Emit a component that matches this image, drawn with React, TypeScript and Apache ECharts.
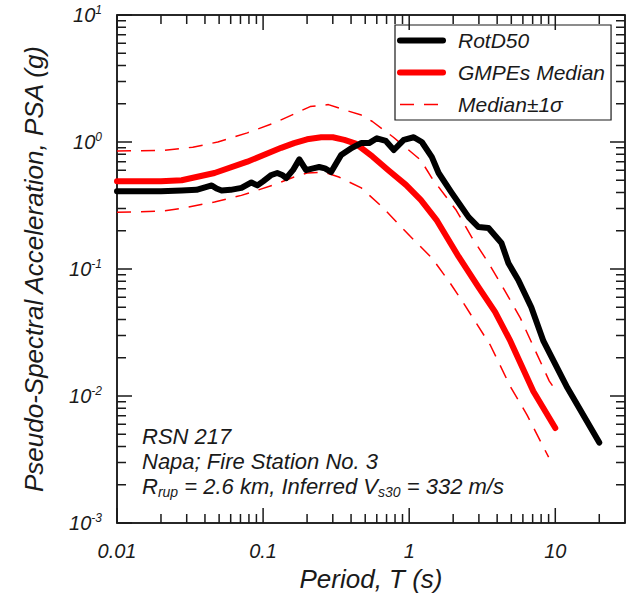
import React, { useEffect, useRef } from "react";
import * as echarts from "echarts";

// ---- data (period T in s, PSA in g) ----
const rotD50T = [0.01, 0.015, 0.02, 0.0277, 0.035, 0.04, 0.0445, 0.048, 0.052, 0.06, 0.0711, 0.0832, 0.0914, 0.1, 0.114, 0.125, 0.135, 0.144, 0.16, 0.177, 0.197, 0.22, 0.242, 0.265, 0.292, 0.342, 0.406, 0.468, 0.531, 0.601, 0.692, 0.785, 0.918, 1.074, 1.22, 1.43, 1.59, 1.95, 2.55, 2.98, 3.49, 4.28, 4.78, 5.58, 6.85, 8.3, 12.1, 20];
const rotD50PSA = [0.41, 0.41, 0.41, 0.415, 0.42, 0.44, 0.455, 0.43, 0.415, 0.42, 0.435, 0.48, 0.455, 0.49, 0.55, 0.57, 0.55, 0.52, 0.6, 0.73, 0.6, 0.62, 0.635, 0.62, 0.58, 0.79, 0.9, 0.98, 0.98, 1.07, 1.02, 0.865, 1.04, 1.09, 1.0, 0.76, 0.57, 0.4, 0.256, 0.214, 0.21, 0.16, 0.111, 0.082, 0.05, 0.027, 0.0116, 0.0043];

const medianT = [0.01, 0.02, 0.0277, 0.0465, 0.078, 0.133, 0.163, 0.2, 0.25, 0.3, 0.36, 0.43, 0.56, 0.72, 0.95, 1.2, 1.55, 2.18, 2.98, 3.87, 4.93, 7.07, 10];
const medianPSA = [0.49, 0.49, 0.5, 0.57, 0.7, 0.9, 0.98, 1.05, 1.09, 1.09, 1.04, 0.97, 0.77, 0.6, 0.46, 0.35, 0.24, 0.125, 0.072, 0.046, 0.027, 0.0109, 0.0056];

const upperT = [0.01, 0.021, 0.033, 0.049, 0.078, 0.119, 0.21, 0.28, 0.36, 0.47, 0.56, 0.78, 1.2, 1.43, 2.1, 2.67, 3.5, 4.5, 5.77, 9.1, 10];
const upperPSA = [0.85, 0.86, 0.91, 1.0, 1.18, 1.41, 1.9, 1.97, 1.79, 1.63, 1.45, 1.09, 0.72, 0.52, 0.29, 0.179, 0.111, 0.068, 0.041, 0.0131, 0.0112];

const lowerT = [0.01, 0.02, 0.0277, 0.0465, 0.071, 0.119, 0.163, 0.2, 0.26, 0.33, 0.47, 0.65, 1.02, 1.43, 1.9, 2.35, 3.6, 4.9, 6.4, 9.0];
const lowerPSA = [0.28, 0.285, 0.3, 0.337, 0.38, 0.46, 0.53, 0.57, 0.58, 0.53, 0.435, 0.31, 0.18, 0.122, 0.078, 0.054, 0.025, 0.012, 0.0071, 0.0033];

// ---- axis structure ----
const xTickLabels = ["0.01", "0.1", "1", "10"];
const yTickExponents = ["-3", "-2", "-1", "0", "1"];
const minorMultipliers = [2, 3, 4, 5, 6, 7, 8, 9];
const xDecades = [0.01, 0.1, 1, 10];
const yDecades = [0.001, 0.01, 0.1, 1];
const xMajor = [0.01, 0.1, 1, 10];
const yMajor = [0.001, 0.01, 0.1, 1, 10];
const X_MIN = 0.01, X_MAX = 30, Y_MIN = 0.001, Y_MAX = 10;

const FONT = "Liberation Sans";
const INK = "#1a1a1a";
const MAJOR_LEN = 15;
const MINOR_LEN = 9;

export default function App() {
  const ref = useRef<HTMLDivElement>(null);
  useEffect(() => {
    if (!ref.current) return;
    const chart = echarts.init(ref.current, undefined, { renderer: "svg" });

    const pair = (xs: number[], ys: number[]) => xs.map((x, i) => [x, ys[i]]);

    // tick values with their lengths, sorted ascending
    const xTicks: number[][] = xMajor.map((v) => [v, MAJOR_LEN]);
    xDecades.forEach((d) => minorMultipliers.forEach((m) => { const v = d * m; if (v < X_MAX) xTicks.push([+v.toPrecision(3), MINOR_LEN]); }));
    xTicks.sort((a, b) => a[0] - b[0]);
    const yTicks: number[][] = yMajor.map((v) => [v, MAJOR_LEN]);
    yDecades.forEach((d) => minorMultipliers.forEach((m) => yTicks.push([+(d * m).toPrecision(3), MINOR_LEN])));
    yTicks.sort((a, b) => a[0] - b[0]);

    const isDecade = (v: number) => Math.abs(Math.log10(v) - Math.round(Math.log10(v))) < 1e-6;
    const mkLine = () => ({ show: true, lineStyle: { color: INK, width: 1.5 } });

    const option: any = {
      animation: false,
      grid: { left: 117, top: 15, right: 7, bottom: 75, containLabel: false },
      xAxis: [
        {
          type: "log", logBase: 10, min: X_MIN, max: X_MAX, position: "bottom",
          axisLine: mkLine(), axisTick: { show: false }, splitLine: { show: false },
          axisLabel: {
            show: true, margin: 18, color: INK, fontSize: 20, fontStyle: "italic", fontFamily: FONT,
            showMaxLabel: false,
            formatter: (v: number) => (isDecade(v) ? xTickLabels[Math.round(Math.log10(v)) + 2] ?? "" : ""),
          },
          name: "Period, T (s)", nameLocation: "middle", nameGap: 42,
          nameTextStyle: { fontSize: 26, fontStyle: "italic", fontFamily: FONT, color: INK },
        },
        {
          type: "log", logBase: 10, min: X_MIN, max: X_MAX, position: "top",
          axisLine: mkLine(), axisTick: { show: false }, splitLine: { show: false }, axisLabel: { show: false },
        },
      ],
      yAxis: [
        {
          type: "log", logBase: 10, min: Y_MIN, max: Y_MAX, position: "left",
          axisLine: mkLine(), axisTick: { show: false }, splitLine: { show: false },
          axisLabel: {
            show: true, margin: 15, color: INK,
            formatter: (v: number) => {
              if (!isDecade(v)) return "";
              const e = yTickExponents[Math.round(Math.log10(v)) + 3];
              return e === undefined ? "" : `{b|10}{s|${e}}`;
            },
            rich: {
              b: { fontSize: 20, fontStyle: "italic", fontFamily: FONT, color: INK, lineHeight: 22 },
              s: { fontSize: 12, fontStyle: "italic", fontFamily: FONT, color: INK, lineHeight: 12, verticalAlign: "top" },
            },
          },
          name: "Pseudo-Spectral Acceleration, PSA (g)", nameLocation: "middle", nameGap: 70,
          nameTextStyle: { fontSize: 26, fontStyle: "italic", fontFamily: FONT, color: INK },
        },
        {
          type: "log", logBase: 10, min: Y_MIN, max: Y_MAX, position: "right",
          axisLine: mkLine(), axisTick: { show: false }, splitLine: { show: false }, axisLabel: { show: false },
        },
      ],
      legend: {
        orient: "vertical", left: 395, top: 25,
        borderColor: INK, borderWidth: 1.2, padding: [5, 6, 5, 2], itemGap: 11,
        itemWidth: 43, itemHeight: 22,
        textStyle: { fontSize: 21, fontStyle: "italic", fontFamily: FONT, color: INK, padding: [0, 0, 0, 10] },
        data: [
          { name: "RotD50", lineStyle: { width: 6, color: "#000" }, itemStyle: { opacity: 0, borderWidth: 0 } },
          { name: "GMPEs Median", lineStyle: { width: 6, color: "#ff0000" }, itemStyle: { opacity: 0, borderWidth: 0 } },
          { name: "Median\u00b11\u03c3", lineStyle: { width: 1.5, color: "#ff0000", type: [14, 10] }, itemStyle: { opacity: 0, borderWidth: 0 } },
        ],
        selectedMode: false,
      },
      graphic: [
        {
          type: "text", left: 142, top: 424, z: 10,
          style: {
            text: "RSN 217\nNapa; Fire Station No. 3\nR{sub|rup} = 2.6 km, Inferred V{sub|s30} = 332 m/s",
            fontSize: 22, fontStyle: "italic", fontFamily: FONT, fill: INK, lineHeight: 25,
            rich: {
              sub: { fontSize: 14, fontStyle: "italic", fontFamily: FONT, fill: INK, lineHeight: 14, verticalAlign: "bottom" },
            },
          },
        },
      ],
      series: [
        {
          name: "Median\u00b11\u03c3", type: "line", data: pair(upperT, upperPSA), symbol: "none", showSymbol: false,
          lineStyle: { color: "#ff0000", width: 1.5, type: [14, 10] }, itemStyle: { color: "#ff0000" }, z: 2,
        },
        {
          name: "Median\u00b11\u03c3", type: "line", data: pair(lowerT, lowerPSA), symbol: "none", showSymbol: false,
          lineStyle: { color: "#ff0000", width: 1.5, type: [14, 10] }, itemStyle: { color: "#ff0000" }, z: 2,
        },
        {
          name: "GMPEs Median", type: "line", data: pair(medianT, medianPSA), symbol: "none", showSymbol: false,
          lineStyle: { color: "#ff0000", width: 6, cap: "round", join: "round" }, itemStyle: { color: "#ff0000" }, z: 3,
        },
        {
          name: "RotD50", type: "line", data: pair(rotD50T, rotD50PSA), symbol: "none", showSymbol: false,
          lineStyle: { color: "#000", width: 6, cap: "round", join: "round" }, itemStyle: { color: "#000" }, z: 4,
        },
        {
          // all tick marks of the frame, drawn as four comb-shaped polylines through the axes' own scales
          type: "custom", name: "frameTicks",
          data: [[1, 1]],
          renderItem: (params: any, api: any) => {
            const bl = api.coord([X_MIN, Y_MIN]);
            const tr = api.coord([X_MAX, Y_MAX]);
            const left = bl[0], bottom = bl[1], right = tr[0], top = tr[1];
            const bottomPts: number[][] = [[left, bottom]];
            const topPts: number[][] = [[left, top]];
            xTicks.forEach(([v, len]) => {
              const px = api.coord([v, 1])[0];
              bottomPts.push([px, bottom], [px, bottom - len], [px, bottom]);
              topPts.push([px, top], [px, top + len], [px, top]);
            });
            bottomPts.push([right, bottom]);
            topPts.push([right, top]);
            const leftPts: number[][] = [[left, bottom]];
            const rightPts: number[][] = [[right, bottom]];
            yTicks.forEach(([v, len]) => {
              const py = api.coord([1, v])[1];
              leftPts.push([left, py], [left + len, py], [left, py]);
              rightPts.push([right, py], [right - len, py], [right, py]);
            });
            leftPts.push([left, top]);
            rightPts.push([right, top]);
            return {
              type: "group",
              children: [bottomPts, topPts, leftPts, rightPts].map((pts) => ({
                type: "polyline",
                shape: { points: pts },
                style: { stroke: INK, lineWidth: 1.5, fill: "none", lineJoin: "bevel", lineCap: "butt" },
              })),
            };
          },
        },
      ],
    };
    chart.setOption(option);
    return () => chart.dispose();
  }, []);
  return <div ref={ref} style={{ position: "fixed", left: 0, top: 0, width: 632, height: 598, background: "#fff" }} />;
}
